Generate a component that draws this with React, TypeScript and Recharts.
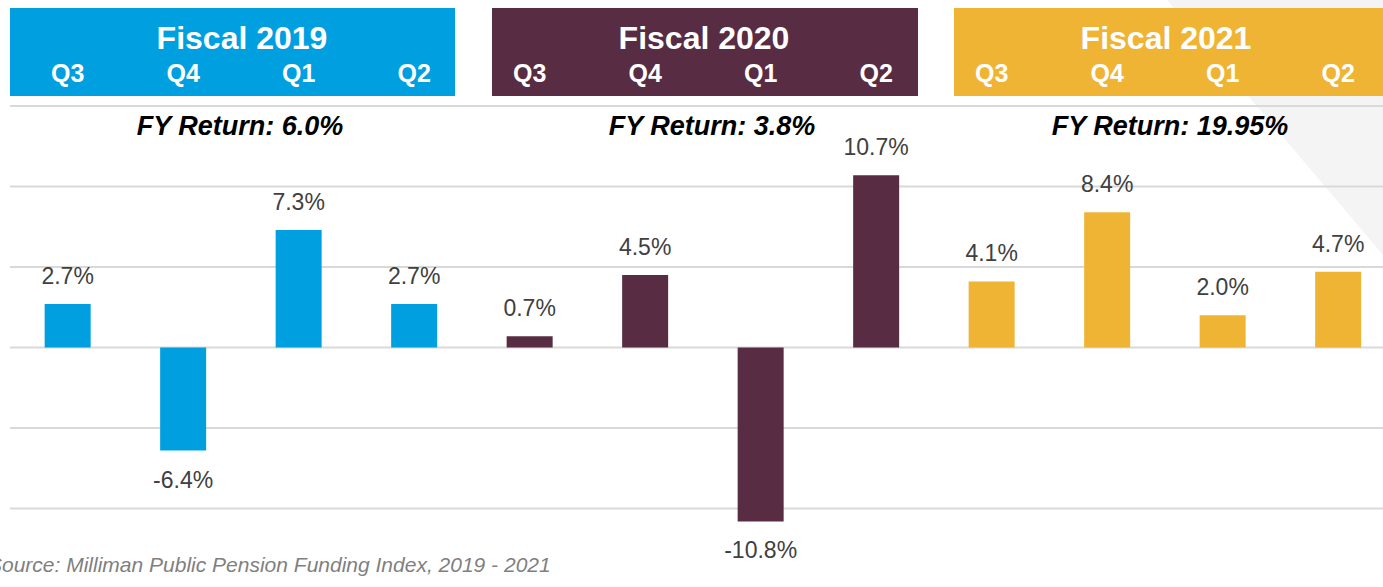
import { Bar, BarChart, CartesianGrid, Cell, LabelList, XAxis, YAxis } from "recharts";

// Quarterly returns, grouped by fiscal year.
const quarters = ["Q3", "Q4", "Q1", "Q2", "Q3", "Q4", "Q1", "Q2", "Q3", "Q4", "Q1", "Q2"];
const fiscalYears = [2019, 2019, 2019, 2019, 2020, 2020, 2020, 2020, 2021, 2021, 2021, 2021];
const returns = [2.7, -6.4, 7.3, 2.7, 0.7, 4.5, -10.8, 10.7, 4.1, 8.4, 2.0, 4.7];
const yTicks = [-15, -10, -5, 0, 5, 10, 15];

const fiscalLabels = ["Fiscal 2019", "Fiscal 2020", "Fiscal 2021"];
const fyReturns = ["FY Return: 6.0%", "FY Return: 3.8%", "FY Return: 19.95%"];
const yearColors: Record<number, string> = { 2019: "#009fdf", 2020: "#582c42", 2021: "#f0b434" };

const data = quarters.map((q, i) => ({
  id: `${fiscalYears[i]}-${i}`,
  quarter: q,
  year: fiscalYears[i],
  value: returns[i],
}));

const ARIAL = "'Liberation Sans', Arial, sans-serif";

// header boxes: [left, width]; titles centred over each group of quarters
const boxes: [number, number][] = [[10, 445], [492, 426], [954, 450]];
const titleCenters = [242, 704, 1166];
const fyCenters = [240, 712, 1170];

function QuarterTick(props: any) {
  const { x, payload, index } = props;
  return (
    <text x={x} y={82} textAnchor="middle" fill="#fff" fontFamily={ARIAL} fontWeight="bold" fontSize={25}>
      {data[index]?.quarter ?? payload.value}
    </text>
  );
}

function ValueLabel(props: any) {
  const { x, y, width, height, value } = props;
  const top = Math.min(y, y + height);
  const bottom = Math.max(y, y + height);
  const cx = x + width / 2;
  const ty = value >= 0 ? top - 20 : bottom + 37;
  return (
    <text x={cx} y={ty} textAnchor="middle" fill="#404040" fontFamily={ARIAL} fontSize={23}>
      {`${value.toFixed(1)}%`}
    </text>
  );
}

export default function App() {
  return (
    <div style={{ position: "absolute", left: 0, top: 0, width: 1383, height: 587, overflow: "hidden", background: "#fff" }}>
      <svg width={1383} height={587} style={{ position: "absolute", left: 0, top: 0 }}>
        <polygon points="1167,0 1383,0 1383,255" fill="#f4f4f4" />
      </svg>
      {boxes.map(([left, width], i) => (
        <div
          key={`box-${i}`}
          style={{ position: "absolute", left, top: 8, width, height: 88, background: yearColors[2019 + i] }}
        />
      ))}
      {fiscalLabels.map((t, i) => (
        <div
          key={t}
          style={{
            position: "absolute", left: titleCenters[i] - 200, width: 400, top: 22, textAlign: "center",
            color: "#fff", fontFamily: ARIAL, fontWeight: "bold", fontSize: 32, lineHeight: "32px",
          }}
        >
          {t}
        </div>
      ))}
      <div style={{ position: "absolute", left: 0, top: 0 }}>
        <BarChart
          width={1400}
          height={600}
          data={data}
          margin={{ top: 76, right: 4, bottom: 11, left: 10 }}
          barCategoryGap="30%"
        >
          <CartesianGrid vertical={false} stroke="#d9d9d9" strokeWidth={2} />
          <XAxis
            dataKey="id"
            orientation="top"
            height={30}
            axisLine={false}
            tickLine={false}
            interval={0}
            tick={<QuarterTick />}
          />
          <YAxis hide domain={[-15, 15]} ticks={yTicks} />
          <Bar dataKey="value" isAnimationActive={false}>
            {data.map((d) => (
              <Cell key={d.id} fill={yearColors[d.year]} />
            ))}
            <LabelList dataKey="value" content={<ValueLabel />} />
          </Bar>
        </BarChart>
      </div>
      {fyReturns.map((t, i) => (
        <div
          key={t}
          style={{
            position: "absolute", left: fyCenters[i] - 200, width: 400, top: 111, textAlign: "center",
            fontFamily: ARIAL, fontWeight: "bold", fontStyle: "italic", fontSize: 27, lineHeight: "30px", color: "#000",
          }}
        >
          {t}
        </div>
      ))}
      <div style={{
        position: "absolute", left: -12, top: 552, fontFamily: ARIAL, fontStyle: "italic",
        fontSize: 21, lineHeight: "26px", color: "#7f7f7f", whiteSpace: "nowrap",
      }}>
        Source: Milliman Public Pension Funding Index, 2019 - 2021
      </div>
    </div>
  );
}
